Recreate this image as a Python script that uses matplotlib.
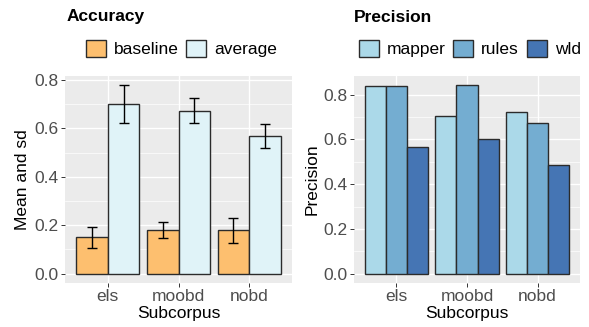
import numpy as np
import matplotlib
matplotlib.use('Agg')
import matplotlib.pyplot as plt
from matplotlib.patches import Patch

# data
subcorpus = ['els', 'moobd', 'nobd']
acc_series = ['baseline', 'average']
acc_mean = {'baseline': [0.150, 0.182, 0.181],
            'average': [0.700, 0.674, 0.570]}
acc_lo = {'baseline': [0.105, 0.148, 0.128],
          'average': [0.623, 0.622, 0.520]}
acc_hi = {'baseline': [0.193, 0.215, 0.230],
          'average': [0.778, 0.727, 0.619]}
prec_series = ['mapper', 'rules', 'wld']
prec = {'mapper': [0.840, 0.703, 0.725],
        'rules': [0.839, 0.842, 0.674],
        'wld': [0.568, 0.603, 0.486]}

acc_cols = {'baseline': '#FDBF6F', 'average': '#E0F3F8'}
prec_cols = {'mapper': '#ABD9E9', 'rules': '#74ADD1', 'wld': '#4575B4'}

W, H = 589, 327
plt.rcParams['font.family'] = ['Liberation Sans', 'DejaVu Sans']
fig = plt.figure(figsize=(W / 100, H / 100), dpi=100)
tick_col = '#4D4D4D'
fs = 12.5


def style_axes(ax, ymax, ylabel):
    ax.set_facecolor('#EBEBEB')
    for s in ax.spines.values():
        s.set_visible(False)
    ax.set_xlim(0.4, 3.6)
    ax.set_ylim(-ymax * 0.05, ymax * 1.05)
    ax.set_yticks([0, 0.2, 0.4, 0.6, 0.8])
    ax.set_yticklabels(['0.0', '0.2', '0.4', '0.6', '0.8'])
    ax.set_yticks([0.1, 0.3, 0.5, 0.7], minor=True)
    ax.set_xticks([1, 2, 3])
    ax.set_xticklabels(subcorpus)
    ax.grid(True, which='major', color='white', lw=1.0)
    ax.grid(True, which='minor', axis='y', color='white', lw=0.5)
    ax.set_axisbelow(True)
    ax.tick_params(which='major', length=3, width=0.7, color='#333333',
                   labelcolor=tick_col, labelsize=fs, pad=1.5)
    ax.tick_params(which='minor', length=0)
    ax.set_xlabel('Subcorpus', fontsize=fs, labelpad=1.5)
    ax.set_ylabel(ylabel, fontsize=fs, labelpad=3)


x = np.arange(1, 4)

# Accuracy panel
ax1 = fig.add_axes([65 / W, 1 - 283 / H, 227 / W, 207 / H])
bw = 0.9 / len(acc_series)
for i, s in enumerate(acc_series):
    xp = x - 0.45 + bw * (i + 0.5)
    ax1.bar(xp, acc_mean[s], width=bw, color=acc_cols[s],
            edgecolor='#2b2b2b', linewidth=1.0, zorder=2)
    m = np.array(acc_mean[s])
    err = [m - np.array(acc_lo[s]), np.array(acc_hi[s]) - m]
    ax1.errorbar(xp, m, yerr=err, fmt='none', ecolor='black',
                 elinewidth=1.0, capsize=3.5, capthick=1.0, zorder=3)
style_axes(ax1, 0.778, 'Mean and sd')

# Precision panel
ax2 = fig.add_axes([354 / W, 1 - 283 / H, 226 / W, 207 / H])
bw = 0.9 / len(prec_series)
for i, s in enumerate(prec_series):
    xp = x - 0.45 + bw * (i + 0.5)
    ax2.bar(xp, prec[s], width=bw, color=prec_cols[s],
            edgecolor='#2b2b2b', linewidth=1.0, zorder=2)
style_axes(ax2, 0.842, 'Precision')

# titles and legends
fig.text(67 / W, 1 - 17 / H, 'Accuracy', fontsize=fs, fontweight='bold',
         va='center', ha='left')
fig.text(354 / W, 1 - 17 / H, 'Precision', fontsize=fs, fontweight='bold',
         va='center', ha='left')

leg_kw = dict(frameon=False, fontsize=fs, handlelength=1.15,
              handleheight=1.1, handletextpad=0.45, columnspacing=0.45,
              borderpad=0, borderaxespad=0, loc='center left')
fig.legend([Patch(facecolor=acc_cols[s], edgecolor='#2b2b2b', lw=1.0)
            for s in acc_series], acc_series,
           bbox_to_anchor=(86 / W, 1 - 48.5 / H), ncol=2, **leg_kw)
fig.legend([Patch(facecolor=prec_cols[s], edgecolor='#2b2b2b', lw=1.0)
            for s in prec_series], prec_series,
           bbox_to_anchor=(359 / W, 1 - 48.5 / H), ncol=3, **leg_kw)

fig.savefig('out.png', dpi=100)
